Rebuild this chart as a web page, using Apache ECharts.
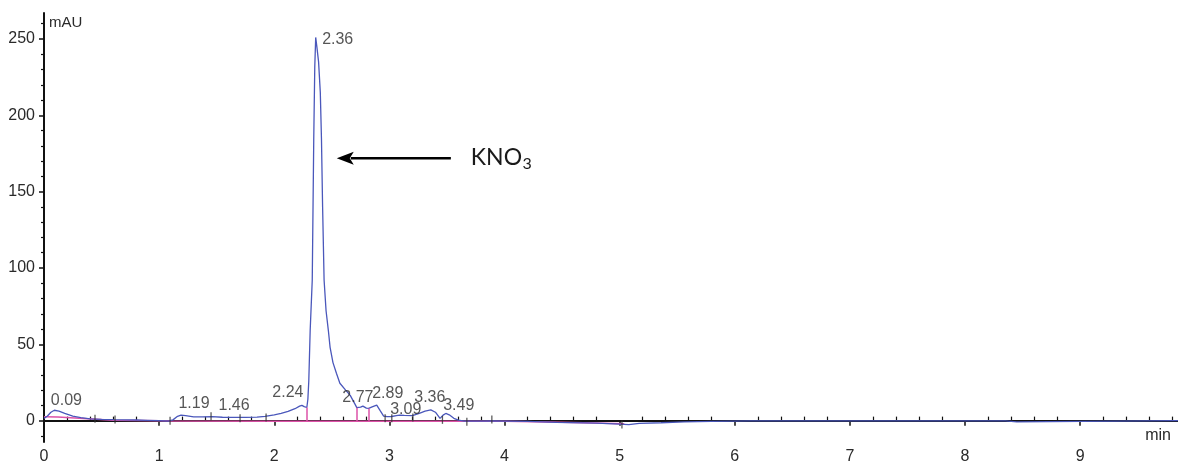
<!DOCTYPE html>
<html>
<head>
<meta charset="utf-8">
<script src="https://cdn.jsdelivr.net/npm/echarts@6/dist/echarts.min.js"></script>
<style>
  html, body { margin: 0; padding: 0; background: #ffffff; }
  #chart { width: 1178px; height: 463px; }
</style>
</head>
<body>
<div id="chart"></div>
<script>
// Detector signal: [retention time (min), absorbance (mAU)]
const signal = [
  [0.00, 1.5], [0.03, 3.0], [0.06, 5.5], [0.09, 6.8], [0.13, 6.2], [0.18, 4.8],
  [0.25, 3.0], [0.32, 2.0], [0.40, 1.2], [0.50, 0.8], [0.60, 0.6], [0.70, 0.5],
  [0.80, 0.4], [0.90, 0.2], [1.00, 0.0], [1.08, -0.3], [1.12, 0.5], [1.16, 2.8],
  [1.19, 3.6], [1.23, 3.3], [1.30, 2.5], [1.38, 2.4], [1.46, 2.6], [1.55, 2.2],
  [1.65, 2.1], [1.75, 2.1], [1.85, 2.3], [1.92, 2.8], [2.00, 3.8], [2.06, 4.8],
  [2.12, 6.0], [2.18, 7.8], [2.22, 9.5], [2.24, 10.0], [2.26, 9.2], [2.283, 8.6],
  [2.292, 14], [2.300, 26], [2.312, 59], [2.330, 92], [2.343, 184], [2.352, 232],
  [2.36, 251], [2.37, 245], [2.385, 235], [2.40, 215], [2.41, 185], [2.42, 140],
  [2.433, 92], [2.45, 72], [2.47, 59], [2.485, 48], [2.51, 38], [2.54, 31],
  [2.57, 24.5], [2.62, 20], [2.66, 16.5], [2.70, 11], [2.717, 8.5], [2.75, 8.8],
  [2.77, 9.5], [2.80, 8.2], [2.82, 8.0], [2.85, 9.0], [2.89, 10.2], [2.92, 6.5],
  [2.95, 3.0], [2.98, 2.6], [3.02, 2.7], [3.06, 3.3], [3.09, 3.6], [3.13, 3.4],
  [3.20, 3.3], [3.26, 4.8], [3.31, 6.2], [3.36, 7.0], [3.40, 5.5], [3.44, 1.5],
  [3.47, 3.8], [3.49, 4.7], [3.52, 3.8], [3.56, 1.5], [3.60, 0.3], [3.65, -0.3],
  [3.80, -0.3], [3.90, -0.2], [4.00, -0.3], [4.20, -0.5], [4.45, -1.2], [4.80, -1.7],
  [5.00, -2.3], [5.08, -2.6], [5.17, -1.8], [5.36, -1.4], [5.56, -0.8], [5.80, -0.5],
  [6.14, -0.1], [8.35, -0.1], [8.36, -0.8], [8.45, -0.8], [8.46, -0.1], [9.85, 0.0]
];

// Integration baseline
const baseline = [
  [0.00, 2.5], [0.12, 2.3], [0.60, 0.3], [1.00, 0.0], [1.10, -0.3], [2.00, -0.4],
  [3.00, -0.4], [4.00, -0.4], [4.50, -1.0], [5.04, -2.0]
];

// Peak split (drop) lines: time, baseline level and signal height at the split
const dropTimes = [2.283, 2.717, 2.82];
const dropBase = [-0.4, -0.4, -0.4];
const dropTops = [8.6, 8.5, 8.0];

// Integration event marks
const eventTimes = [0.443, 0.617, 1.095, 1.451, 1.703, 1.929, 2.963, 3.021, 3.204, 3.461, 3.673, 3.89, 5.02];
const eventLevels = [1.3, 0.8, 0.0, 2.8, 1.5, 2.0, 1.5, 1.5, 2.0, 0.5, -0.8, 0.8, -2.5];

// Detected peaks: retention time and apex height
const peakTimes = [0.09, 1.19, 1.46, 2.24, 2.36, 2.77, 2.89, 3.09, 3.36, 3.49];
const peakHeights = [6.8, 3.6, 2.6, 10.0, 251, 9.5, 10.2, 3.6, 7.0, 4.7];

// Axis ticks
const xMajor = [0, 1, 2, 3, 4, 5, 6, 7, 8, 9];
const yMajor = [0, 50, 100, 150, 200, 250];

const xMinor = [];
for (let i = 1; i <= 49; i++) { if (i % 5 !== 0) xMinor.push(+(i * 0.2).toFixed(1)); }
const yMinor = [];
for (let v = -10; v <= 260; v += 10) { if (v % 50 !== 0) yMinor.push(v); }

// Annotation arrow pointing at the main peak, in axis units: [tip, tail]
const arrowEnds = [[2.543, 171.8], [3.534, 171.8]];

// Pixel offsets of each retention-time label from its peak apex
const labelOffsets = [
  [12, -10], [13, -12], [22, -11], [-14, -13], [22, 2],
  [-5, -9], [11, -11], [6, -6], [-1, -12], [13, -8]
];

const FONT = "'Liberation Sans', Arial, sans-serif";
const NOTE_FONT = "Lato, 'Open Sans', sans-serif";
const AXIS_COLOR = '#111';
const TEXT_COLOR = '#2a2a2a';
const TRACE_COLOR = '#4a57bb';
const BASE_COLOR = '#dd52a8';

const chart = echarts.init(document.getElementById('chart'), null, { renderer: 'canvas' });

const xRange = { min: 0, max: 9.85 };
const yRange = { min: -14, max: 267 };

const option = {
  animation: false,
  backgroundColor: '#ffffff',
  grid: { left: 44, right: 0, top: 13, bottom: 21, outerBoundsMode: 'none' },
  xAxis: [
    {
      type: 'value', position: 'bottom', ...xRange,
      axisLine: { lineStyle: { color: AXIS_COLOR, width: 2 } },
      axisTick: { customValues: xMajor, length: 5, lineStyle: { color: AXIS_COLOR, width: 1.5 } },
      axisLabel: { customValues: xMajor, margin: 7, fontFamily: FONT, fontSize: 16, color: TEXT_COLOR },
      splitLine: { show: false }
    },
    {
      type: 'value', position: 'bottom', ...xRange,
      axisLine: { show: false },
      axisTick: { customValues: xMinor, inside: true, length: 4, lineStyle: { color: AXIS_COLOR, width: 1.2 } },
      axisLabel: { show: false },
      splitLine: { show: false }
    }
  ],
  yAxis: [
    {
      type: 'value', position: 'left', ...yRange,
      axisLine: { show: true, lineStyle: { color: AXIS_COLOR, width: 2 } },
      axisTick: { show: true, customValues: yMajor, length: 5, lineStyle: { color: AXIS_COLOR, width: 1.5 } },
      axisLabel: { customValues: yMajor, margin: 9, fontFamily: FONT, fontSize: 16, color: TEXT_COLOR },
      splitLine: { show: false },
      name: 'mAU', nameLocation: 'end', nameGap: -2,
      nameTextStyle: { align: 'left', verticalAlign: 'top', padding: [0, 0, 0, 5], fontFamily: FONT, fontSize: 15, color: TEXT_COLOR }
    },
    {
      type: 'value', position: 'left', ...yRange,
      axisLine: { show: false },
      axisTick: { show: true, customValues: yMinor, length: 3, lineStyle: { color: AXIS_COLOR, width: 1.2 } },
      axisLabel: { show: false },
      splitLine: { show: false }
    }
  ],
  series: [
    {
      name: 'baseline', type: 'line', xAxisIndex: 0, yAxisIndex: 0,
      data: baseline, showSymbol: false, silent: true, z: 2,
      lineStyle: { color: BASE_COLOR, width: 1.5 },
      markLine: {
        silent: true, symbol: ['none', 'none'], animation: false,
        label: { show: false },
        lineStyle: { color: BASE_COLOR, width: 1.5, type: 'solid' },
        data: dropTimes.map((t, i) => [{ coord: [t, dropBase[i]] }, { coord: [t, dropTops[i]] }])
      }
    },
    {
      name: 'signal', type: 'line', xAxisIndex: 0, yAxisIndex: 0,
      data: signal, showSymbol: false, silent: true, z: 3,
      lineStyle: { color: TRACE_COLOR, width: 1.3 }
    },
    {
      name: 'events', type: 'scatter', xAxisIndex: 0, yAxisIndex: 0,
      data: eventTimes.map((t, i) => [t, eventLevels[i]]),
      symbol: 'rect', symbolSize: [1.3, 8], silent: true, z: 4,
      itemStyle: { color: '#333' }
    },
    {
      name: 'peaks', type: 'scatter', xAxisIndex: 0, yAxisIndex: 0,
      data: peakTimes.map((t, i) => ({
        value: [t, peakHeights[i]],
        label: { offset: labelOffsets[i] }
      })),
      symbolSize: 0, silent: true, z: 5,
      label: {
        show: true, position: 'inside', align: 'center', verticalAlign: 'middle',
        fontFamily: FONT, fontSize: 16, color: TEXT_COLOR,
        formatter: (p) => p.value[0].toFixed(2)
      }
    }
  ]
};

chart.setOption(option);

// Axis unit label at the right end of the time axis, and the KNO3 arrow note
const px = (pt) => chart.convertToPixel({ xAxisIndex: 0, yAxisIndex: 0 }, pt);
const tip = px(arrowEnds[0]);
const tail = px(arrowEnds[1]);
const headLen = 17, headHalf = 6.5;
const xEnd = px([xRange.max, 0])[0];
const xAxisY = px([0, yRange.min])[1];

const noteMain = "23px " + NOTE_FONT;
const measureCtx = document.createElement('canvas').getContext('2d');
measureCtx.font = noteMain;
const mainWidth = measureCtx.measureText('KNO').width;
const noteX = tail[0] + 20;

chart.setOption({
  graphic: [
    {
      type: 'text', silent: true,
      style: {
        text: 'min', x: xEnd - 7, y: xAxisY + 2,
        align: 'right', verticalAlign: 'bottom',
        font: "16px " + FONT, fill: TEXT_COLOR
      }
    },
    {
      type: 'line', silent: true,
      shape: { x1: tail[0], y1: tail[1], x2: tip[0] + headLen - 3, y2: tip[1] },
      style: { stroke: '#000', lineWidth: 2.5 }
    },
    {
      type: 'polygon', silent: true,
      shape: { points: [
        [tip[0], tip[1]],
        [tip[0] + headLen, tip[1] - headHalf],
        [tip[0] + headLen - 4, tip[1]],
        [tip[0] + headLen, tip[1] + headHalf]
      ] },
      style: { fill: '#000' }
    },
    {
      type: 'text', silent: true,
      style: {
        text: 'KNO', x: noteX, y: tip[1] - 1,
        align: 'left', verticalAlign: 'middle',
        font: noteMain, fill: '#1a1a1a'
      }
    },
    {
      type: 'text', silent: true,
      style: {
        text: '3', x: noteX + mainWidth + 0.5, y: tip[1] + 6,
        align: 'left', verticalAlign: 'middle',
        font: "16px " + NOTE_FONT, fill: '#1a1a1a'
      }
    }
  ]
});
</script>
</body>
</html>
